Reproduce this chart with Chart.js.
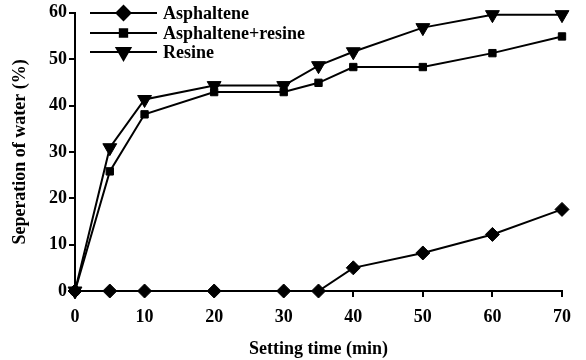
<!DOCTYPE html>
<html>
<head>
<meta charset="utf-8">
<script src="https://cdn.jsdelivr.net/npm/chart.js@4"></script>
<style>
  html, body { margin: 0; padding: 0; background: #fff; }
  #wrap { width: 586px; height: 360px; }
</style>
</head>
<body>
<div id="wrap"><canvas id="c" width="586" height="360"></canvas></div>
<script>
// Settling time (min)
const times = [0, 5, 10, 20, 30, 35, 40, 50, 60, 70];
// Water separation (%)
const asphaltene = [0, 0, 0, 0, 0, 0, 5, 8.2, 12.2, 17.6];
const asphalteneResine = [0, 25.8, 38.1, 42.9, 42.9, 44.9, 48.3, 48.3, 51.3, 54.9];
const resine = [0, 30.9, 41.3, 44.3, 44.3, 48.6, 51.6, 56.8, 59.6, 59.6];
const seriesNames = ['Asphaltene', 'Asphaltene+resine', 'Resine'];
const xTicks = [0, 10, 20, 30, 40, 50, 60, 70];
const yTicks = [0, 10, 20, 30, 40, 50, 60];

const FONT = '"Liberation Serif", "Times New Roman", serif';

function pts(values) {
  return times.map((t, i) => ({ x: t, y: values[i] }));
}

// Legend drawn inside the plot, top-left, with line + marker samples
const insideLegend = {
  id: 'insideLegend',
  afterDraw(chart) {
    const ctx = chart.ctx;
    const x0 = 90, x1 = 157, tx = 163;
    const rows = [13, 33, 52];
    ctx.save();
    chart.data.datasets.forEach((ds, i) => {
      const y = rows[i];
      ctx.strokeStyle = '#000';
      ctx.lineWidth = 2;
      ctx.beginPath();
      ctx.moveTo(x0, y);
      ctx.lineTo(x1, y);
      ctx.stroke();
      ctx.fillStyle = '#000';
      Chart.helpers.drawPoint(ctx, {
        pointStyle: ds.pointStyle,
        radius: ds.pointRadius,
        rotation: ds.pointRotation || 0,
        borderWidth: 1
      }, (x0 + x1) / 2, y);
      ctx.font = 'bold 18px ' + FONT;
      ctx.textBaseline = 'middle';
      ctx.textAlign = 'left';
      ctx.fillText(ds.label, tx, y + 1);
    });
    ctx.restore();
  }
};

const common = {
  borderColor: '#000',
  backgroundColor: '#000',
  pointBackgroundColor: '#000',
  pointBorderColor: '#000',
  borderWidth: 2,
  pointBorderWidth: 1,
  tension: 0,
  clip: false
};

new Chart(document.getElementById('c'), {
  type: 'line',
  data: {
    datasets: [
      Object.assign({}, common, { label: seriesNames[0], data: pts(asphaltene), pointStyle: 'rectRot', pointRadius: 7 }),
      Object.assign({}, common, { label: seriesNames[1], data: pts(asphalteneResine), pointStyle: 'rect', pointRadius: 5.2 }),
      Object.assign({}, common, { label: seriesNames[2], data: pts(resine), pointStyle: 'triangle', pointRotation: 180, pointRadius: 8 })
    ]
  },
  options: {
    responsive: false,
    animation: false,
    layout: { padding: { top: 11, right: 24, left: 0, bottom: 0 } },
    plugins: { legend: { display: false }, tooltip: { enabled: false } },
    scales: {
      x: {
        type: 'linear',
        min: 0, max: 70,
        afterBuildTicks(scale) { scale.ticks = xTicks.map(v => ({ value: v })); },
        afterFit(scale) { scale.height = 69; },
        grid: { drawOnChartArea: false, drawTicks: true, tickLength: 6, color: '#000', lineWidth: 2 },
        border: { display: true, color: '#000', width: 2 },
        ticks: { color: '#000', font: { family: FONT, size: 18, weight: 'bold' }, padding: 10, maxRotation: 0 },
        title: { display: true, text: 'Setting time (min)', color: '#000', font: { family: FONT, size: 18, weight: 'bold' }, padding: { top: 2, bottom: 0 } }
      },
      y: {
        min: 0, max: 60,
        afterBuildTicks(scale) { scale.ticks = yTicks.map(v => ({ value: v })); },
        afterFit(scale) { scale.width = 75; },
        grid: { drawOnChartArea: false, drawTicks: true, tickLength: 6, color: '#000', lineWidth: 2 },
        border: { display: true, color: '#000', width: 2 },
        ticks: { color: '#000', font: { family: FONT, size: 18, weight: 'bold' }, padding: 2 },
        title: { display: true, text: 'Seperation of water (%)', color: '#000', font: { family: FONT, size: 18, weight: 'bold' }, padding: { top: 10, bottom: 0 } }
      }
    }
  },
  plugins: [insideLegend]
});
</script>
</body>
</html>
